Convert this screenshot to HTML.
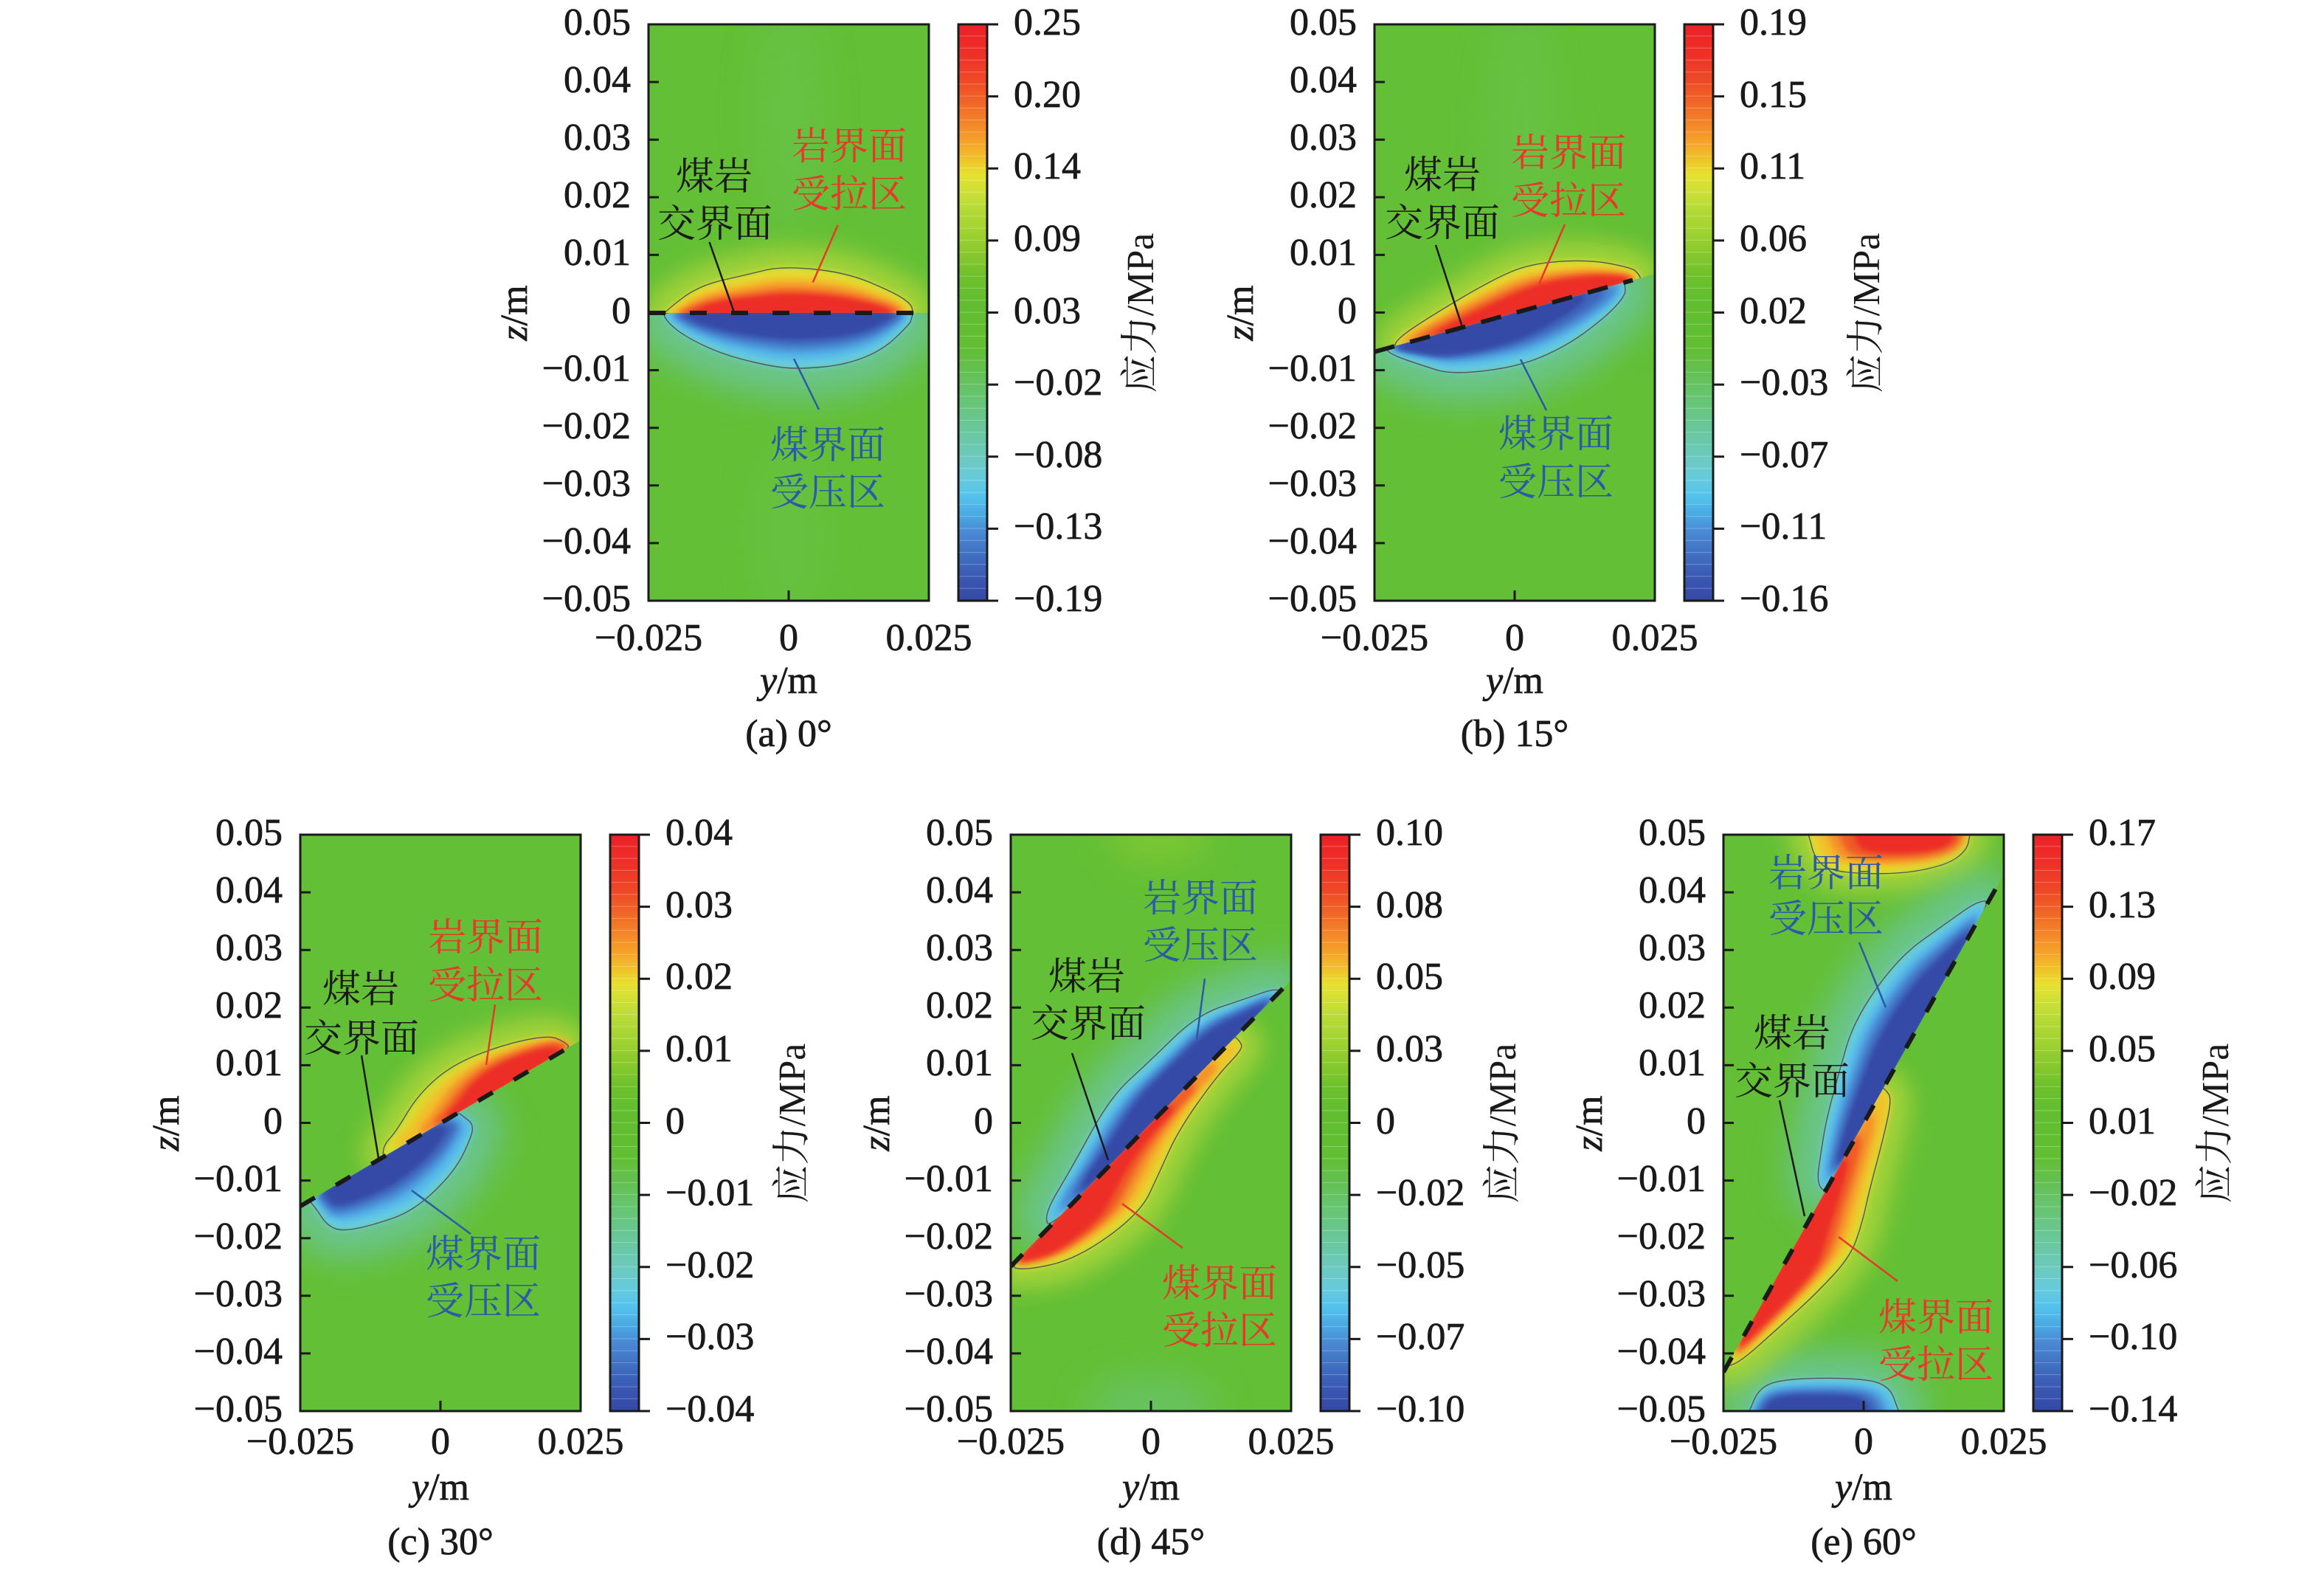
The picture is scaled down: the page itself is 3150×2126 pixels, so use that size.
<!DOCTYPE html>
<html><head><meta charset="utf-8"><style>html,body{margin:0;padding:0;background:#fff}svg{display:block}.num text{stroke:#1a1a1a;stroke-width:0.7}</style></head>
<body>
<svg xmlns="http://www.w3.org/2000/svg" width="3150" height="2126" viewBox="0 0 3150 2126" style="font-family:'Liberation Serif','Noto Serif CJK SC',serif" font-family="'Liberation Serif','Noto Serif CJK SC',serif" fill="#1a1a1a">
<defs>
<linearGradient id="cb" x1="0" y1="0" x2="0" y2="1">
<stop offset="0" stop-color="#ec2228"/><stop offset="0.05" stop-color="#ee3028"/><stop offset="0.10" stop-color="#ef4a27"/><stop offset="0.14" stop-color="#f16a27"/><stop offset="0.18" stop-color="#f48d29"/><stop offset="0.21" stop-color="#f5a82a"/><stop offset="0.235" stop-color="#efc42a"/><stop offset="0.26" stop-color="#e8e030"/><stop offset="0.29" stop-color="#cde036"/><stop offset="0.32" stop-color="#b6da36"/><stop offset="0.36" stop-color="#a0d232"/><stop offset="0.40" stop-color="#86c82c"/><stop offset="0.44" stop-color="#6cc02c"/><stop offset="0.48" stop-color="#62be30"/><stop offset="0.56" stop-color="#62be32"/><stop offset="0.60" stop-color="#64c050"/><stop offset="0.64" stop-color="#66c46c"/><stop offset="0.68" stop-color="#68c68a"/><stop offset="0.72" stop-color="#6ac8a8"/><stop offset="0.76" stop-color="#6ccac4"/><stop offset="0.79" stop-color="#66cade"/><stop offset="0.82" stop-color="#54c2ec"/><stop offset="0.85" stop-color="#4aaae2"/><stop offset="0.88" stop-color="#4a8ad4"/><stop offset="0.92" stop-color="#4070c2"/><stop offset="0.96" stop-color="#3a58b2"/><stop offset="1" stop-color="#3448a6"/>
</linearGradient>
<pattern id="bands" patternUnits="userSpaceOnUse" x="420" y="0" width="39" height="16.27"><rect y="15.5" width="39" height="1" fill="#fff" fill-opacity="0.35"/></pattern>
<filter id="b3" filterUnits="userSpaceOnUse" x="-1000" y="-1000" width="2500" height="2500"><feGaussianBlur stdDeviation="4"/></filter>
<filter id="b4" filterUnits="userSpaceOnUse" x="-1000" y="-1000" width="2500" height="2500"><feGaussianBlur stdDeviation="6"/></filter>
<filter id="b14" filterUnits="userSpaceOnUse" x="-1000" y="-1000" width="2500" height="2500"><feGaussianBlur stdDeviation="16"/></filter>
<filter id="b22" filterUnits="userSpaceOnUse" x="-1000" y="-1000" width="2500" height="2500"><feGaussianBlur stdDeviation="24"/></filter>
<clipPath id="up"><rect x="-1500" y="-1500" width="3000" height="1500"/></clipPath>
<clipPath id="dn"><rect x="-1500" y="0" width="3000" height="1500"/></clipPath>
<path id="aT" d="M0,6 Q-172,6 -169.5,1.75 Q-167,-2.5 -144.5,-19.75 Q-122,-37 -89,-44.5 Q-56,-52 -32.5,-57.75 Q-9,-63.5 34.5,-59.25 Q78,-55 111,-41 Q144,-27 155,-19.5 Q166,-12 167,-7 Q168,-2 170,2 Q172,6 0,6 Z"/>
<path id="aC" d="M-1,-6 Q-172,-6 -169,2.75 Q-166,11.5 -152.5,22.25 Q-139,33 -114,44.75 Q-89,56.5 -55.5,64.75 Q-22,73 -2,74.5 Q18,76 48,73 Q78,70 103,60 Q128,50 146,32.5 Q164,15 165,12.25 Q166,9.5 168,1.75 Q170,-6 -1,-6 Z"/>
<path id="bT" d="M4,6 Q-170,6 -168,-1 Q-166,-8 -137,-17.5 Q-108,-27 -63.5,-39 Q-19,-51 9.5,-55 Q38,-59 77,-51 Q116,-43 143,-29.5 Q170,-16 173,-11 Q176,-6 177,0 Q178,6 4,6 Z"/>
<path id="bC" d="M-13.5,-6 Q-182,-6 -180.5,1 Q-179,8 -159.5,21.5 Q-140,35 -122,46.5 Q-104,58 -58,65 Q-12,72 24,66.5 Q60,61 91,48.5 Q122,36 136.5,26.5 Q151,17 152.5,11 Q154,5 154.5,-0.5 Q155,-6 -13.5,-6 Z"/>
<path id="cT" d="M56,6 Q-92,6 -90,0.5 Q-88,-5 -83.5,-9.75 Q-79,-14.5 -68.25,-17.75 Q-57.5,-21 -31.75,-35 Q-6,-49 24,-54.5 Q54,-60 89.5,-54.5 Q125,-49 155.5,-38.75 Q186,-28.5 193.5,-19.25 Q201,-10 202.5,-2 Q204,6 56,6 Z"/>
<path id="cC" d="M-91,-6 Q-208,-6 -206,2.5 Q-204,11 -203.5,25.5 Q-203,40 -196.5,49 Q-190,58 -170,65 Q-150,72 -120.5,78 Q-91,84 -53.5,75 Q-16,66 7,50.5 Q30,35 33.5,28.5 Q37,22 35,17 Q33,12 29.5,3 Q26,-6 -91,-6 Z"/>
<path id="dC" d="M27.5,6 Q-198,6 -194.75,-5.4 Q-191.5,-16.8 -154.75,-25.65 Q-118,-34.5 -65.75,-49.25 Q-13.5,-64 22.55,-62 Q58.6,-60 103.8,-59 Q149,-58 180,-42 Q211,-26 229.5,-17 Q248,-8 250.5,-1 Q253,6 27.5,6 Z"/>
<path id="dT" d="M-56,-6 Q-275,-6 -269,5.5 Q-263,17 -232.25,37 Q-201.5,57 -149.6,66 Q-97.7,75 -68.85,65 Q-40,55 -10.6,44.2 Q18.8,33.4 64.1,26.1 Q109.4,18.8 134.55,18.7 Q159.7,18.6 161.85,13.3 Q164,8 163.5,1 Q163,-6 -56,-6 Z"/>
<path id="eC" d="M120,6 Q-108,6 -105.5,-4.75 Q-103,-15.5 -81.5,-23.75 Q-60,-32 -41,-39 Q-22,-46 9,-54 Q40,-62 78,-71 Q116,-80 168,-74.5 Q220,-69 256,-52 Q292,-35 315.5,-24 Q339,-13 343.5,-3.5 Q348,6 120,6 Z"/>
<path id="eT" d="M-162.5,-6 Q-380,-6 -375,2.5 Q-370,11 -330.5,24.5 Q-291,38 -260.5,48 Q-230,58 -198,65.5 Q-166,73 -143,69 Q-120,65 -97,58 Q-74,51 -37,41.5 Q0,32 23.5,24.5 Q47,17 50.5,11 Q54,5 54.5,-0.5 Q55,-6 -162.5,-6 Z"/>
<path id="eTop" d="M222,-10 Q108,-10 112,-5 Q116,0 119.5,15.5 Q123,31 134.5,41 Q146,51 192,52.5 Q238,54 270.5,47.5 Q303,41 316.5,31 Q330,21 332,10.5 Q334,0 335,-5 Q336,-10 222,-10 Z"/>
<path id="eBot" d="M135,791 Q28,791 31.5,786.5 Q35,782 41.5,766 Q48,750 64,743.8 Q80,737.6 126,736.6 Q172,735.6 198,739.8 Q224,744 230.8,763 Q237.6,782 239.8,786.5 Q242,791 135,791 Z"/>
</defs>
<rect width="3150" height="2126" fill="#fff"/>

<!-- ============ (a) ============ -->
<g transform="translate(879,33)">
<svg width="380" height="781" overflow="hidden">
<rect width="380" height="781" fill="#63bf35"/>
<ellipse cx="190" cy="120" rx="45" ry="160" fill="#6cc452" opacity="0.5" filter="url(#b22)"/>
<ellipse cx="190" cy="690" rx="50" ry="120" fill="#6cc452" opacity="0.4" filter="url(#b22)"/>
<g transform="translate(190,391)">
<g clip-path="url(#up)">
<use href="#aT" fill="#a8d43a" stroke="#a8d43a" stroke-width="56" stroke-linejoin="round" opacity="0.95" filter="url(#b14)"/>
<use href="#aT" fill="#e0e030" filter="url(#b3)"/>
<use href="#aT" transform="scale(0.96,0.82)" fill="#f2c02c" filter="url(#b4)"/>
<use href="#aT" transform="scale(0.92,0.66)" fill="#f4902a" filter="url(#b4)"/>
<use href="#aT" transform="scale(0.88,0.52)" fill="#f05a28" filter="url(#b4)"/>
<use href="#aT" transform="scale(0.82,0.42)" fill="#ec2f28" filter="url(#b4)"/>
<use href="#aT" fill="none" stroke="#555" stroke-width="1.4"/>
</g>
<g clip-path="url(#dn)">
<use href="#aC" fill="#6cc69a" stroke="#6cc69a" stroke-width="80" stroke-linejoin="round" opacity="0.9" filter="url(#b22)"/>
<use href="#aC" fill="#68cde0" filter="url(#b3)"/>
<use href="#aC" transform="scale(0.96,0.85)" fill="#52b6ea" filter="url(#b4)"/>
<use href="#aC" transform="scale(0.93,0.7)" fill="#4a88d2" filter="url(#b4)"/>
<use href="#aC" transform="scale(0.9,0.58)" fill="#3e66bc" filter="url(#b4)"/>
<use href="#aC" transform="scale(0.85,0.48)" fill="#3448a6" filter="url(#b4)"/>
<use href="#aC" fill="none" stroke="#555" stroke-width="1.4"/>
</g>
</g>
<line x1="0" y1="391" x2="365" y2="391" stroke="#1a1a1a" stroke-width="6" stroke-dasharray="23 33"/>
</svg>
<rect width="380" height="781" fill="none" stroke="#1a1a1a" stroke-width="3"/>
<path d="M0 78.1h14M0 156.2h14M0 234.3h14M0 312.4h14M0 390.5h14M0 468.6h14M0 546.7h14M0 624.8h14M0 702.9h14M190 781v-14" stroke="#1a1a1a" stroke-width="3"/>
<g class="num" font-size="52" text-anchor="end"><text x="-24" y="14">0.05</text><text x="-24" y="92">0.04</text><text x="-24" y="170">0.03</text><text x="-24" y="248">0.02</text><text x="-24" y="326">0.01</text><text x="-24" y="405">0</text><text x="-24" y="483">−0.01</text><text x="-24" y="561">−0.02</text><text x="-24" y="639">−0.03</text><text x="-24" y="717">−0.04</text><text x="-24" y="795">−0.05</text></g>
<rect x="420" width="39" height="781" fill="url(#cb)"/><rect x="420" width="39" height="781" fill="url(#bands)"/><rect x="420" width="39" height="781" fill="none" stroke="#1a1a1a" stroke-width="3"/>
<path d="M459 0h15M459 97.6h15M459 195.3h15M459 292.9h15M459 390.5h15M459 488.1h15M459 585.8h15M459 683.4h15M459 781h15" stroke="#1a1a1a" stroke-width="3"/>
<g class="num" font-size="52"><text x="495" y="14">0.25</text><text x="495" y="112">0.20</text><text x="495" y="209">0.14</text><text x="495" y="307">0.09</text><text x="495" y="405">0.03</text><text x="495" y="502">−0.02</text><text x="495" y="600">−0.08</text><text x="495" y="697">−0.13</text><text x="495" y="795">−0.19</text></g>
<g class="num" font-size="52" text-anchor="middle"><text x="0" y="848">−0.025</text><text x="190" y="848">0</text><text x="380" y="848">0.025</text>
<text x="190" y="906"><tspan font-style="italic">y</tspan>/m</text><text x="190" y="978">(a) 0°</text>
<text transform="translate(-165,391) rotate(-90)"><tspan font-style="italic">z</tspan>/m</text></g>
<text font-size="52" text-anchor="middle" transform="translate(684,391) rotate(-90)">应力/MPa</text>
</g>

<!-- ============ (b) ============ -->
<g transform="translate(1863,33)">
<svg width="380" height="781" overflow="hidden">
<rect width="380" height="781" fill="#63bf35"/>
<ellipse cx="200" cy="140" rx="50" ry="170" fill="#6cc452" opacity="0.45" filter="url(#b22)"/>
<g transform="translate(190,391) rotate(-15.5)">
<g clip-path="url(#up)">
<use href="#bT" fill="#a8d43a" stroke="#a8d43a" stroke-width="52" stroke-linejoin="round" opacity="0.95" filter="url(#b14)"/>
<use href="#bT" fill="#e0e030" filter="url(#b3)"/>
<use href="#bT" transform="scale(0.97,0.85)" fill="#f2c02c" filter="url(#b4)"/>
<use href="#bT" transform="scale(0.94,0.72)" fill="#f4902a" filter="url(#b4)"/>
<use href="#bT" transform="translate(10,0) scale(0.88,0.6)" fill="#f05a28" filter="url(#b4)"/>
<use href="#bT" transform="translate(20,0) scale(0.8,0.5)" fill="#ec2f28" filter="url(#b4)"/>
<use href="#bT" fill="none" stroke="#555" stroke-width="1.4"/>
</g>
<g clip-path="url(#dn)">
<use href="#bC" fill="#6cc69a" stroke="#6cc69a" stroke-width="80" stroke-linejoin="round" opacity="0.9" filter="url(#b22)"/>
<use href="#bC" fill="#68cde0" filter="url(#b3)"/>
<use href="#bC" transform="scale(0.96,0.85)" fill="#52b6ea" filter="url(#b4)"/>
<use href="#bC" transform="scale(0.93,0.72)" fill="#4a88d2" filter="url(#b4)"/>
<use href="#bC" transform="translate(-10,0) scale(0.88,0.62)" fill="#3e66bc" filter="url(#b4)"/>
<use href="#bC" transform="translate(-25,0) scale(0.8,0.55)" fill="#3448a6" filter="url(#b4)"/>
<use href="#bC" fill="none" stroke="#555" stroke-width="1.4"/>
</g>
</g>
<line x1="0" y1="443.7" x2="350" y2="346.6" stroke="#1a1a1a" stroke-width="6" stroke-dasharray="28 22"/>
</svg>
<rect width="380" height="781" fill="none" stroke="#1a1a1a" stroke-width="3"/>
<path d="M0 78.1h14M0 156.2h14M0 234.3h14M0 312.4h14M0 390.5h14M0 468.6h14M0 546.7h14M0 624.8h14M0 702.9h14M190 781v-14" stroke="#1a1a1a" stroke-width="3"/>
<g class="num" font-size="52" text-anchor="end"><text x="-24" y="14">0.05</text><text x="-24" y="92">0.04</text><text x="-24" y="170">0.03</text><text x="-24" y="248">0.02</text><text x="-24" y="326">0.01</text><text x="-24" y="405">0</text><text x="-24" y="483">−0.01</text><text x="-24" y="561">−0.02</text><text x="-24" y="639">−0.03</text><text x="-24" y="717">−0.04</text><text x="-24" y="795">−0.05</text></g>
<rect x="420" width="39" height="781" fill="url(#cb)"/><rect x="420" width="39" height="781" fill="url(#bands)"/><rect x="420" width="39" height="781" fill="none" stroke="#1a1a1a" stroke-width="3"/>
<path d="M459 0h15M459 97.6h15M459 195.3h15M459 292.9h15M459 390.5h15M459 488.1h15M459 585.8h15M459 683.4h15M459 781h15" stroke="#1a1a1a" stroke-width="3"/>
<g class="num" font-size="52"><text x="495" y="14">0.19</text><text x="495" y="112">0.15</text><text x="495" y="209">0.11</text><text x="495" y="307">0.06</text><text x="495" y="405">0.02</text><text x="495" y="502">−0.03</text><text x="495" y="600">−0.07</text><text x="495" y="697">−0.11</text><text x="495" y="795">−0.16</text></g>
<g class="num" font-size="52" text-anchor="middle"><text x="0" y="848">−0.025</text><text x="190" y="848">0</text><text x="380" y="848">0.025</text>
<text x="190" y="906"><tspan font-style="italic">y</tspan>/m</text><text x="190" y="978">(b) 15°</text>
<text transform="translate(-165,391) rotate(-90)"><tspan font-style="italic">z</tspan>/m</text></g>
<text font-size="52" text-anchor="middle" transform="translate(684,391) rotate(-90)">应力/MPa</text>
</g>

<!-- ============ (c) ============ -->
<g transform="translate(407,1131)">
<svg width="380" height="781" overflow="hidden">
<rect width="380" height="781" fill="#63bf35"/>
<g transform="translate(190,391) rotate(-30.6)">
<g clip-path="url(#up)">
<use href="#cT" fill="#a8d43a" stroke="#a8d43a" stroke-width="56" stroke-linejoin="round" opacity="0.95" filter="url(#b14)"/>
<use href="#cT" fill="#d8de30" filter="url(#b3)"/>
<use href="#cT" transform="translate(15,0) scale(0.95,0.85)" fill="#f2c02c" filter="url(#b4)"/>
<use href="#cT" transform="translate(40,0) scale(0.8,0.72)" fill="#f4902a" filter="url(#b4)"/>
<use href="#cT" transform="translate(55,0) scale(0.72,0.6)" fill="#f05a28" filter="url(#b4)"/>
<use href="#cT" transform="translate(65,0) scale(0.62,0.5)" fill="#ec2f28" filter="url(#b4)"/>
<use href="#cT" fill="none" stroke="#555" stroke-width="1.4"/>
</g>
<g clip-path="url(#dn)">
<use href="#cC" fill="#6cc69a" stroke="#6cc69a" stroke-width="80" stroke-linejoin="round" opacity="0.9" filter="url(#b22)"/>
<use href="#cC" fill="#68cde0" filter="url(#b3)"/>
<use href="#cC" transform="scale(0.96,0.85)" fill="#52b6ea" filter="url(#b4)"/>
<use href="#cC" transform="translate(-10,0) scale(0.9,0.7)" fill="#4a88d2" filter="url(#b4)"/>
<use href="#cC" transform="translate(-15,0) scale(0.85,0.58)" fill="#3e66bc" filter="url(#b4)"/>
<use href="#cC" transform="translate(-25,0) scale(0.78,0.48)" fill="#3448a6" filter="url(#b4)"/>
<use href="#cC" fill="none" stroke="#555" stroke-width="1.4"/>
</g>
</g>
<line x1="0" y1="503.4" x2="365" y2="287.5" stroke="#1a1a1a" stroke-width="6" stroke-dasharray="23 33"/>
</svg>
<rect width="380" height="781" fill="none" stroke="#1a1a1a" stroke-width="3"/>
<path d="M0 78.1h14M0 156.2h14M0 234.3h14M0 312.4h14M0 390.5h14M0 468.6h14M0 546.7h14M0 624.8h14M0 702.9h14M190 781v-14" stroke="#1a1a1a" stroke-width="3"/>
<g class="num" font-size="52" text-anchor="end"><text x="-24" y="14">0.05</text><text x="-24" y="92">0.04</text><text x="-24" y="170">0.03</text><text x="-24" y="248">0.02</text><text x="-24" y="326">0.01</text><text x="-24" y="405">0</text><text x="-24" y="483">−0.01</text><text x="-24" y="561">−0.02</text><text x="-24" y="639">−0.03</text><text x="-24" y="717">−0.04</text><text x="-24" y="795">−0.05</text></g>
<rect x="420" width="39" height="781" fill="url(#cb)"/><rect x="420" width="39" height="781" fill="url(#bands)"/><rect x="420" width="39" height="781" fill="none" stroke="#1a1a1a" stroke-width="3"/>
<path d="M459 0h15M459 97.6h15M459 195.3h15M459 292.9h15M459 390.5h15M459 488.1h15M459 585.8h15M459 683.4h15M459 781h15" stroke="#1a1a1a" stroke-width="3"/>
<g class="num" font-size="52"><text x="495" y="14">0.04</text><text x="495" y="112">0.03</text><text x="495" y="209">0.02</text><text x="495" y="307">0.01</text><text x="495" y="405">0</text><text x="495" y="502">−0.01</text><text x="495" y="600">−0.02</text><text x="495" y="697">−0.03</text><text x="495" y="795">−0.04</text></g>
<g class="num" font-size="52" text-anchor="middle"><text x="0" y="839">−0.025</text><text x="190" y="839">0</text><text x="380" y="839">0.025</text>
<text x="190" y="901"><tspan font-style="italic">y</tspan>/m</text><text x="190" y="975">(c) 30°</text>
<text transform="translate(-165,391) rotate(-90)"><tspan font-style="italic">z</tspan>/m</text></g>
<text font-size="52" text-anchor="middle" transform="translate(684,391) rotate(-90)">应力/MPa</text>
</g>

<!-- ============ (d) ============ -->
<g transform="translate(1370,1131)">
<svg width="380" height="781" overflow="hidden">
<rect width="380" height="781" fill="#63bf35"/>
<ellipse cx="200" cy="0" rx="70" ry="40" fill="#8ccc30" opacity="0.6" filter="url(#b22)"/>
<ellipse cx="190" cy="781" rx="90" ry="50" fill="#6cc47a" opacity="0.6" filter="url(#b22)"/>
<g transform="translate(190,391) rotate(-45.6)">
<g clip-path="url(#up)">
<use href="#dC" fill="#6cc69a" stroke="#6cc69a" stroke-width="80" stroke-linejoin="round" opacity="0.9" filter="url(#b22)"/>
<use href="#dC" fill="#68cde0" filter="url(#b3)"/>
<use href="#dC" transform="scale(0.97,0.85)" fill="#52b6ea" filter="url(#b4)"/>
<use href="#dC" transform="translate(10,0) scale(0.92,0.75)" fill="#4a88d2" filter="url(#b4)"/>
<use href="#dC" transform="translate(20,0) scale(0.85,0.66)" fill="#3e66bc" filter="url(#b4)"/>
<use href="#dC" transform="translate(25,0) scale(0.8,0.58)" fill="#3448a6" filter="url(#b4)"/>
<use href="#dC" fill="none" stroke="#555" stroke-width="1.4"/>
</g>
<g clip-path="url(#dn)">
<use href="#dT" fill="#a8d43a" stroke="#a8d43a" stroke-width="56" stroke-linejoin="round" opacity="0.95" filter="url(#b14)"/>
<use href="#dT" fill="#dce030" filter="url(#b3)"/>
<use href="#dT" transform="scale(0.97,0.88)" fill="#f2c02c" filter="url(#b4)"/>
<use href="#dT" transform="translate(-25,0) scale(0.88,0.75)" fill="#f4902a" filter="url(#b4)"/>
<use href="#dT" transform="translate(-50,0) scale(0.78,0.66)" fill="#f05a28" filter="url(#b4)"/>
<use href="#dT" transform="translate(-75,0) scale(0.68,0.56)" fill="#ec2f28" filter="url(#b4)"/>
<use href="#dT" fill="none" stroke="#555" stroke-width="1.4"/>
</g>
</g>
<line x1="0" y1="585" x2="380" y2="197" stroke="#1a1a1a" stroke-width="6" stroke-dasharray="23 33"/>
</svg>
<rect width="380" height="781" fill="none" stroke="#1a1a1a" stroke-width="3"/>
<path d="M0 78.1h14M0 156.2h14M0 234.3h14M0 312.4h14M0 390.5h14M0 468.6h14M0 546.7h14M0 624.8h14M0 702.9h14M190 781v-14" stroke="#1a1a1a" stroke-width="3"/>
<g class="num" font-size="52" text-anchor="end"><text x="-24" y="14">0.05</text><text x="-24" y="92">0.04</text><text x="-24" y="170">0.03</text><text x="-24" y="248">0.02</text><text x="-24" y="326">0.01</text><text x="-24" y="405">0</text><text x="-24" y="483">−0.01</text><text x="-24" y="561">−0.02</text><text x="-24" y="639">−0.03</text><text x="-24" y="717">−0.04</text><text x="-24" y="795">−0.05</text></g>
<rect x="420" width="39" height="781" fill="url(#cb)"/><rect x="420" width="39" height="781" fill="url(#bands)"/><rect x="420" width="39" height="781" fill="none" stroke="#1a1a1a" stroke-width="3"/>
<path d="M459 0h15M459 97.6h15M459 195.3h15M459 292.9h15M459 390.5h15M459 488.1h15M459 585.8h15M459 683.4h15M459 781h15" stroke="#1a1a1a" stroke-width="3"/>
<g class="num" font-size="52"><text x="495" y="14">0.10</text><text x="495" y="112">0.08</text><text x="495" y="209">0.05</text><text x="495" y="307">0.03</text><text x="495" y="405">0</text><text x="495" y="502">−0.02</text><text x="495" y="600">−0.05</text><text x="495" y="697">−0.07</text><text x="495" y="795">−0.10</text></g>
<g class="num" font-size="52" text-anchor="middle"><text x="0" y="839">−0.025</text><text x="190" y="839">0</text><text x="380" y="839">0.025</text>
<text x="190" y="901"><tspan font-style="italic">y</tspan>/m</text><text x="190" y="975">(d) 45°</text>
<text transform="translate(-165,391) rotate(-90)"><tspan font-style="italic">z</tspan>/m</text></g>
<text font-size="52" text-anchor="middle" transform="translate(684,391) rotate(-90)">应力/MPa</text>
</g>

<!-- ============ (e) ============ -->
<g transform="translate(2336,1131)">
<svg width="380" height="781" overflow="hidden">
<rect width="380" height="781" fill="#63bf35"/>
<use href="#eTop" fill="#a8d43a" stroke="#a8d43a" stroke-width="50" stroke-linejoin="round" opacity="0.95" filter="url(#b14)"/>
<use href="#eTop" fill="#e0e030" filter="url(#b3)"/>
<use href="#eTop" transform="translate(225,0) scale(0.93,0.85) translate(-225,0)" fill="#f2c02c" filter="url(#b4)"/>
<use href="#eTop" transform="translate(235,0) scale(0.85,0.72) translate(-225,0)" fill="#f4902a" filter="url(#b4)"/>
<use href="#eTop" transform="translate(240,0) scale(0.75,0.6) translate(-225,0)" fill="#f05a28" filter="url(#b4)"/>
<use href="#eTop" transform="translate(245,0) scale(0.62,0.48) translate(-225,0)" fill="#ec2f28" filter="url(#b4)"/>
<use href="#eTop" fill="none" stroke="#555" stroke-width="1.4"/>
<use href="#eBot" fill="#6cc69a" stroke="#6cc69a" stroke-width="70" stroke-linejoin="round" opacity="0.9" filter="url(#b22)"/>
<use href="#eBot" fill="#68cde0" filter="url(#b3)"/>
<use href="#eBot" transform="translate(135,781) scale(0.95,0.85) translate(-135,-781)" fill="#52b6ea" filter="url(#b4)"/>
<use href="#eBot" transform="translate(130,781) scale(0.88,0.72) translate(-135,-781)" fill="#4a88d2" filter="url(#b4)"/>
<use href="#eBot" transform="translate(128,781) scale(0.8,0.6) translate(-135,-781)" fill="#3e66bc" filter="url(#b4)"/>
<use href="#eBot" transform="translate(125,781) scale(0.72,0.5) translate(-135,-781)" fill="#3448a6" filter="url(#b4)"/>
<use href="#eBot" fill="none" stroke="#555" stroke-width="1.4"/>
<g transform="translate(190,391) rotate(-60.6)">
<g clip-path="url(#up)">
<use href="#eC" fill="#6cc69a" stroke="#6cc69a" stroke-width="80" stroke-linejoin="round" opacity="0.9" filter="url(#b22)"/>
<use href="#eC" fill="#68cde0" filter="url(#b3)"/>
<use href="#eC" transform="scale(0.97,0.85)" fill="#52b6ea" filter="url(#b4)"/>
<use href="#eC" transform="translate(10,0) scale(0.9,0.72)" fill="#4a88d2" filter="url(#b4)"/>
<use href="#eC" transform="translate(15,0) scale(0.85,0.6)" fill="#3e66bc" filter="url(#b4)"/>
<use href="#eC" transform="translate(20,0) scale(0.8,0.5)" fill="#3448a6" filter="url(#b4)"/>
<use href="#eC" fill="none" stroke="#555" stroke-width="1.4"/>
</g>
<g clip-path="url(#dn)">
<use href="#eT" fill="#a8d43a" stroke="#a8d43a" stroke-width="56" stroke-linejoin="round" opacity="0.95" filter="url(#b14)"/>
<use href="#eT" fill="#dce030" filter="url(#b3)"/>
<use href="#eT" transform="scale(0.97,0.88)" fill="#f2c02c" filter="url(#b4)"/>
<use href="#eT" transform="translate(-30,0) scale(0.88,0.75)" fill="#f4902a" filter="url(#b4)"/>
<use href="#eT" transform="translate(-60,0) scale(0.78,0.65)" fill="#f05a28" filter="url(#b4)"/>
<use href="#eT" transform="translate(-90,0) scale(0.68,0.55)" fill="#ec2f28" filter="url(#b4)"/>
<use href="#eT" fill="none" stroke="#555" stroke-width="1.4"/>
</g>
</g>
<line x1="0" y1="728.2" x2="380" y2="53.8" stroke="#1a1a1a" stroke-width="6" stroke-dasharray="23 33"/>
</svg>
<rect width="380" height="781" fill="none" stroke="#1a1a1a" stroke-width="3"/>
<path d="M0 78.1h14M0 156.2h14M0 234.3h14M0 312.4h14M0 390.5h14M0 468.6h14M0 546.7h14M0 624.8h14M0 702.9h14M190 781v-14" stroke="#1a1a1a" stroke-width="3"/>
<g class="num" font-size="52" text-anchor="end"><text x="-24" y="14">0.05</text><text x="-24" y="92">0.04</text><text x="-24" y="170">0.03</text><text x="-24" y="248">0.02</text><text x="-24" y="326">0.01</text><text x="-24" y="405">0</text><text x="-24" y="483">−0.01</text><text x="-24" y="561">−0.02</text><text x="-24" y="639">−0.03</text><text x="-24" y="717">−0.04</text><text x="-24" y="795">−0.05</text></g>
<rect x="420" width="39" height="781" fill="url(#cb)"/><rect x="420" width="39" height="781" fill="url(#bands)"/><rect x="420" width="39" height="781" fill="none" stroke="#1a1a1a" stroke-width="3"/>
<path d="M459 0h15M459 97.6h15M459 195.3h15M459 292.9h15M459 390.5h15M459 488.1h15M459 585.8h15M459 683.4h15M459 781h15" stroke="#1a1a1a" stroke-width="3"/>
<g class="num" font-size="52"><text x="495" y="14">0.17</text><text x="495" y="112">0.13</text><text x="495" y="209">0.09</text><text x="495" y="307">0.05</text><text x="495" y="405">0.01</text><text x="495" y="502">−0.02</text><text x="495" y="600">−0.06</text><text x="495" y="697">−0.10</text><text x="495" y="795">−0.14</text></g>
<g class="num" font-size="52" text-anchor="middle"><text x="0" y="839">−0.025</text><text x="190" y="839">0</text><text x="380" y="839">0.025</text>
<text x="190" y="901"><tspan font-style="italic">y</tspan>/m</text><text x="190" y="975">(e) 60°</text>
<text transform="translate(-165,391) rotate(-90)"><tspan font-style="italic">z</tspan>/m</text></g>
<text font-size="52" text-anchor="middle" transform="translate(684,391) rotate(-90)">应力/MPa</text>
</g>

<!-- ============ annotations ============ -->
<g stroke-width="2.5" fill="none">
<line x1="961.5" y1="328" x2="994.6" y2="422" stroke="#1a1a1a"/>
<line x1="1135.6" y1="305" x2="1101.8" y2="382.6" stroke="#e8382c"/>
<line x1="1076" y1="486" x2="1110" y2="555" stroke="#2b5aa6"/>
<line x1="1946" y1="332" x2="1982" y2="443" stroke="#1a1a1a"/>
<line x1="2121" y1="304" x2="2086" y2="385" stroke="#e8382c"/>
<line x1="2061" y1="487" x2="2096" y2="556" stroke="#2b5aa6"/>
<line x1="490" y1="1430" x2="513" y2="1569" stroke="#1a1a1a"/>
<line x1="671" y1="1361" x2="659" y2="1443" stroke="#e8382c"/>
<line x1="558" y1="1613" x2="638" y2="1672" stroke="#2b5aa6"/>
<line x1="1453" y1="1427" x2="1502" y2="1572" stroke="#1a1a1a"/>
<line x1="1633" y1="1326" x2="1622" y2="1408" stroke="#2b5aa6"/>
<line x1="1521" y1="1631" x2="1603" y2="1691" stroke="#e8382c"/>
<line x1="2520" y1="1277" x2="2556" y2="1365" stroke="#2b5aa6"/>
<line x1="2412" y1="1491" x2="2446" y2="1648" stroke="#1a1a1a"/>
<line x1="2492" y1="1676" x2="2572" y2="1736" stroke="#e8382c"/>
</g>
<g font-size="52" text-anchor="middle">
<text x="968" y="257" fill="#1a1a1a">煤岩</text><text x="969" y="321" fill="#1a1a1a">交界面</text>
<text x="1151" y="216" fill="#e8382c">岩界面</text><text x="1151" y="281" fill="#e8382c">受拉区</text>
<text x="1122" y="621" fill="#2b5aa6">煤界面</text><text x="1122" y="685" fill="#2b5aa6">受压区</text>

<text x="1955" y="255" fill="#1a1a1a">煤岩</text><text x="1955" y="320" fill="#1a1a1a">交界面</text>
<text x="2126" y="225" fill="#e8382c">岩界面</text><text x="2126" y="290" fill="#e8382c">受拉区</text>
<text x="2109" y="606" fill="#2b5aa6">煤界面</text><text x="2109" y="671" fill="#2b5aa6">受压区</text>

<text x="489" y="1358" fill="#1a1a1a">煤岩</text><text x="490" y="1425" fill="#1a1a1a">交界面</text>
<text x="658" y="1288" fill="#e8382c">岩界面</text><text x="658" y="1353" fill="#e8382c">受拉区</text>
<text x="655" y="1717" fill="#2b5aa6">煤界面</text><text x="655" y="1781" fill="#2b5aa6">受压区</text>

<text x="1473" y="1341" fill="#1a1a1a">煤岩</text><text x="1475" y="1405" fill="#1a1a1a">交界面</text>
<text x="1627" y="1235" fill="#2b5aa6">岩界面</text><text x="1627" y="1299" fill="#2b5aa6">受压区</text>
<text x="1653" y="1757" fill="#e8382c">煤界面</text><text x="1653" y="1821" fill="#e8382c">受拉区</text>

<text x="2475" y="1201" fill="#2b5aa6">岩界面</text><text x="2475" y="1263" fill="#2b5aa6">受压区</text>
<text x="2429" y="1418" fill="#1a1a1a">煤岩</text><text x="2429" y="1483" fill="#1a1a1a">交界面</text>
<text x="2624" y="1803" fill="#e8382c">煤界面</text><text x="2624" y="1867" fill="#e8382c">受拉区</text>
</g>
</svg>
</body></html>
